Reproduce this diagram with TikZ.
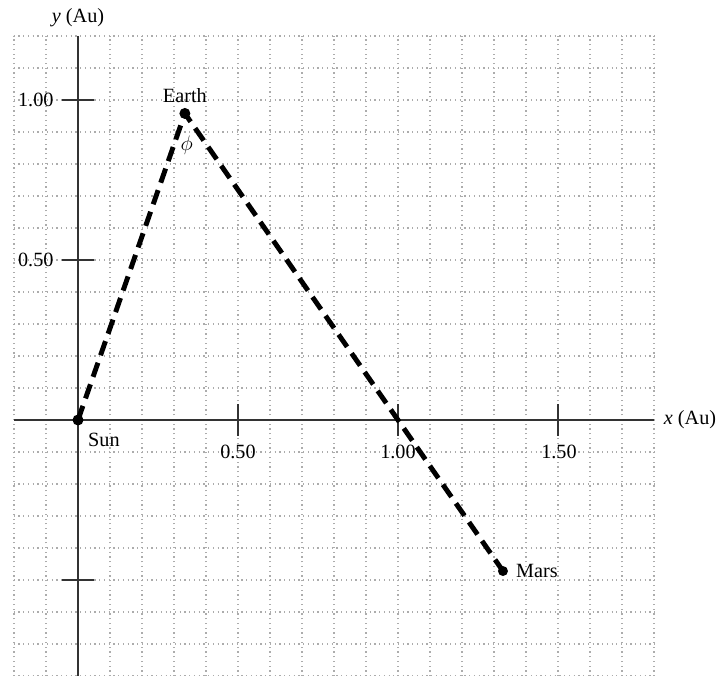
\documentclass[tikz,border=0pt]{standalone}
\usepackage{fontspec}
\setmainfont{Liberation Serif}
\usetikzlibrary{positioning}
\tikzset{
  gridline/.style={gray!65, dotted, line width=0.7pt},
  axisline/.style={black!80, line width=0.9pt},
  ticklabel/.style={inner sep=1pt},
  planet/.style={circle, fill=black, inner sep=0pt, minimum size=0.22cm},
  orbitlink/.style={line width=2.8pt, dash pattern=on 8.5pt off 4.5pt},
  planetlabel/.style={inner sep=1pt}
}
\begin{document}
\begin{tikzpicture}[x=6.4cm, y=6.4cm, every node/.style={font=\fontsize{11.5}{14}\selectfont}]
  \useasboundingbox (-0.24375,-0.8) rectangle (2.00625,1.3125);
  \draw[gridline, step=0.1] (-0.201,-0.801) grid (1.801,1.201);
  \draw[axisline] (-0.2,0) -- (1.8,0);
  \draw[axisline] (0,-0.8) -- (0,1.2);
  \foreach \t in {0.5,1,1.5} \draw[axisline] (\t,-0.05) -- (\t,0.05);
  \foreach \t in {-0.5,0.5,1} \draw[axisline] (-0.05,\t) -- (0.05,\t);
  \node[ticklabel, left] (y100) at (-0.07,1) {1.00};
  \node[ticklabel, left] (y050) at (-0.07,0.5) {0.50};
  \node[ticklabel] (x050) at (0.5,-0.1) {0.50};
  \node[ticklabel] (x100) at (1.0,-0.1) {1.00};
  \node[ticklabel] (x150) at (1.503,-0.1) {1.50};
  \node (xaxis) at (1.9125,0) {\textit{x} (Au)};
  \node (yaxis) at (0,1.256) {\textit{y} (Au)};
  \node[planet] (sun) at (0,0) {};
  \node[planet] (earth) at (0.334,0.958) {};
  \node[planet, minimum size=0.2cm] (mars) at (1.328,-0.472) {};
  \draw[orbitlink] (sun.center) -- (earth.center) -- (mars.center);
  \node[planetlabel] (sunlabel) at (0.081,-0.0625) {Sun};
  \node[planetlabel] (earthlabel) at (0.334,1.0125) {Earth};
  \node[planetlabel] (philabel) at (0.34,0.859) {$\phi$};
  \node[planetlabel] (marslabel) at (1.434,-0.472) {Mars};
\end{tikzpicture}
\end{document}
